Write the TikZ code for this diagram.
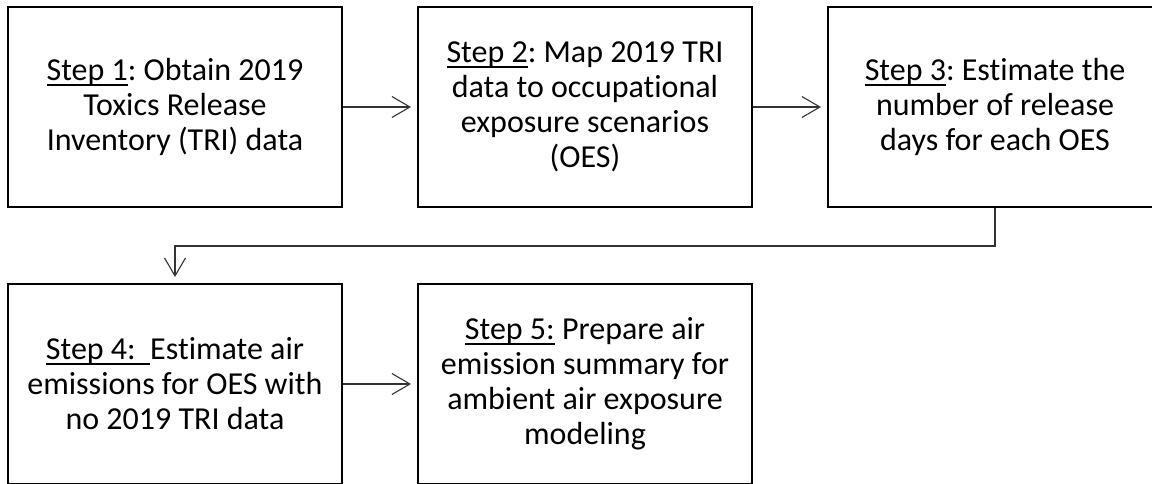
\documentclass[tikz,border=0pt]{standalone}
\usepackage{fontspec}
\setmainfont{Carlito}[Ligatures={NoCommon}]
\usetikzlibrary{arrows.meta}
\frenchspacing

% underline drawn through the descenders, as in office-style text
\newlength\stepulw
\newcommand\stepul[1]{\settowidth\stepulw{#1}\rlap{\rule[-5pt]{\stepulw}{1.8pt}}#1}

\tikzset{
  stepbox/.style={draw=black, line width=2pt, rectangle,
    minimum width=334pt, minimum height=200pt, inner sep=0pt,
    align=center, font=\fontsize{32pt}{35pt}\selectfont},
  conn/.style={draw=black!80, line width=1.1pt,
    -{Straight Barb[length=18pt,width=21pt,line width=1.1pt]},
    shorten >=6pt}
}

\begin{document}
\begin{tikzpicture}[x=1pt,y=-1pt]
  \clip (0,0) rectangle (1152,483);
  \useasboundingbox (0,0) rectangle (1152,483);

  \node[stepbox] (s1) at (175,107) {\stepul{Step 1}: Obtain 2019\\Toxics Release\\Inventory (TRI) data};
  \node[stepbox] (s2) at (585,107) {\stepul{Step 2}: Map 2019 TRI\\data to occupational\\exposure scenarios\\(OES)};
  \node[stepbox] (s3) at (995,107) {\stepul{Step 3}: Estimate the\\number of release\\days for each OES};
  \node[stepbox] (s4) at (175,384) {\stepul{Step 4:\ \ }Estimate air\\emissions for OES with\\no 2019 TRI data};
  \node[stepbox] (s5) at (585,384) {\stepul{Step 5:} Prepare air\\emission summary for\\ambient air exposure\\modeling};

  \coordinate (turn) at (995,246);

  \draw[conn] (s1) -- (s2);
  \draw[conn] (s2) -- (s3);
  \draw[conn] (s3.south) -- (turn) -| (s4.north);
  \draw[conn] (s4) -- (s5);
\end{tikzpicture}
\end{document}
